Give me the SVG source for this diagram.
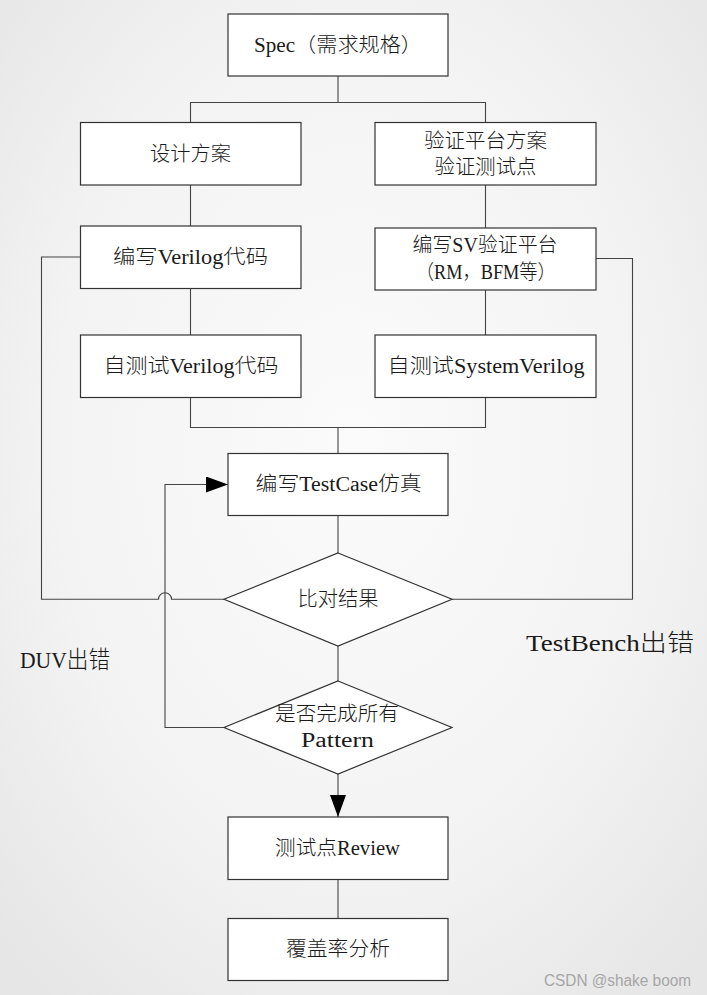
<svg xmlns="http://www.w3.org/2000/svg" width="707" height="995" viewBox="0 0 707 995">
<defs>
<radialGradient id="bg" cx="50%" cy="45%" r="70%">
<stop offset="0" stop-color="#fbfbfb"/>
<stop offset="0.6" stop-color="#f3f3f3"/>
<stop offset="1" stop-color="#e6e6e6"/>
</radialGradient>
<marker id="arr" markerUnits="userSpaceOnUse" markerWidth="22" markerHeight="16" refX="22" refY="8" orient="auto">
<path d="M0,0 L22,8 L0,16 z" fill="#000"/>
</marker>
<style>
.box{fill:#fff;stroke:#333;stroke-width:1.2}
.ln{fill:none;stroke:#444;stroke-width:1.1}
.t{font-family:"Liberation Serif","Noto Sans CJK SC",serif;font-size:20px;font-weight:300;fill:#1a1a1a;text-anchor:middle}
.lab{font-family:"Liberation Serif","Noto Sans CJK SC",serif;font-size:24px;font-weight:300;fill:#1a1a1a}
.wm{font-family:"Liberation Sans","Noto Sans",sans-serif;font-size:16px;fill:#a6a6a6}
</style>
</defs>
<rect x="0" y="0" width="707" height="995" fill="url(#bg)"/>

<g id="connectors">
<path class="ln" d="M338,76 V102.5 M190.5,122 V102.5 H485.5 V122"/>
<path class="ln" d="M190.5,185 V226"/>
<path class="ln" d="M485.5,185 V228"/>
<path class="ln" d="M190.5,288 V335"/>
<path class="ln" d="M485.5,290 V335"/>
<path class="ln" d="M190.5,397 V427.5 H485.5 V397 M338,427.5 V453"/>
<path class="ln" d="M338,515 V553"/>
<path class="ln" d="M338,646 V681"/>
<path class="ln" d="M338,774 V817" marker-end="url(#arr)"/>
<path class="ln" d="M338,879 V918"/>
<path class="ln" d="M224,727.5 H165 V484.5 H228" marker-end="url(#arr)"/>
<path class="ln" d="M80,257 H41.5 V599.3 H158.5 A6.5,6.5 0 0 1 171.5,599.3 H224"/>
<path class="ln" d="M452,599.3 H632.5 V258.5 H596"/>
</g>

<g id="spec"><rect class="box" x="228" y="14" width="220" height="62"/><text class="t" x="338" y="51.5" textLength="168" lengthAdjust="spacingAndGlyphs">Spec（需求规格）</text></g>
<g id="design"><rect class="box" x="80.5" y="122.5" width="220.5" height="62.5"/><text class="t" x="190.5" y="161" textLength="81" lengthAdjust="spacingAndGlyphs">设计方案</text></g>
<g id="verifplan"><rect class="box" x="375" y="122.5" width="221" height="62.5"/><text class="t" x="485.5" y="147.5" textLength="123" lengthAdjust="spacingAndGlyphs">验证平台方案</text><text class="t" x="485.5" y="174" textLength="102" lengthAdjust="spacingAndGlyphs">验证测试点</text></g>
<g id="writeverilog"><rect class="box" x="80.5" y="226" width="220.5" height="62.5"/><text class="t" x="190.5" y="264" textLength="155" lengthAdjust="spacingAndGlyphs">编写Verilog代码</text></g>
<g id="writesv"><rect class="box" x="375" y="228" width="221" height="62"/><text class="t" x="485" y="251.5" textLength="145" lengthAdjust="spacingAndGlyphs">编写SV验证平台</text><text class="t" x="485.8" y="278.5" textLength="140" lengthAdjust="spacingAndGlyphs">（RM，BFM等）</text></g>
<g id="testverilog"><rect class="box" x="80.5" y="335" width="220.5" height="62.5"/><text class="t" x="191" y="372.5" textLength="175" lengthAdjust="spacingAndGlyphs">自测试Verilog代码</text></g>
<g id="testsv"><rect class="box" x="375" y="335" width="221" height="62.5"/><text class="t" x="486" y="372.5" textLength="197" lengthAdjust="spacingAndGlyphs">自测试SystemVerilog</text></g>
<g id="testcase"><rect class="box" x="228" y="453.5" width="220" height="62"/><text class="t" x="338.6" y="490.5" textLength="166" lengthAdjust="spacingAndGlyphs">编写TestCase仿真</text></g>
<g id="compare"><polygon class="box" points="338,553 452,599.3 338,646 224,599.3"/><text class="t" x="338" y="605.5" textLength="81" lengthAdjust="spacingAndGlyphs">比对结果</text></g>
<g id="allpattern"><polygon class="box" points="338,681 452,727.5 338,774 224,727.5"/><text class="t" x="337" y="720.5" textLength="124" lengthAdjust="spacingAndGlyphs">是否完成所有</text><text class="t" x="337.5" y="746.5" textLength="73" lengthAdjust="spacingAndGlyphs">Pattern</text></g>
<g id="review"><rect class="box" x="228" y="817" width="220" height="62.5"/><text class="t" x="337.5" y="854.5" textLength="125" lengthAdjust="spacingAndGlyphs">测试点Review</text></g>
<g id="coverage"><rect class="box" x="228" y="918.5" width="220" height="62"/><text class="t" x="338" y="955.5" textLength="104" lengthAdjust="spacingAndGlyphs">覆盖率分析</text></g>

<g id="labels">
<text class="lab" x="20" y="668" textLength="90" lengthAdjust="spacingAndGlyphs">DUV出错</text>
<text class="lab" x="526" y="651" textLength="168" lengthAdjust="spacingAndGlyphs">TestBench出错</text>
<text class="wm" x="544" y="985.5" textLength="147" lengthAdjust="spacingAndGlyphs">CSDN @shake boom</text>
</g>
</svg>
